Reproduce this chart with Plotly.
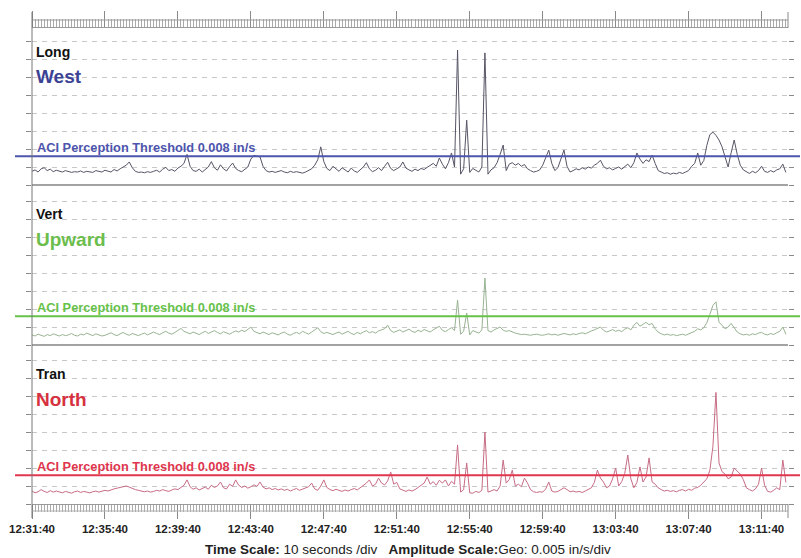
import pandas as pd
import plotly.graph_objects as go

# ---------------- data (peak particle velocity, in/s, one sample per 10 s) ----------------
start_time = "2000-01-01 12:31:40"
end_time = "2000-01-01 13:13:07"
sample_step = "10s"
threshold = 0.008
threshold_text = "ACI Perception Threshold 0.008 in/s"

long_west = [
    0.0038, 0.0042, 0.0036, 0.0045, 0.0048, 0.0040, 0.0044, 0.0037, 0.0041, 0.0039,
    0.0036, 0.0040, 0.0038, 0.0035, 0.0037, 0.0036, 0.0039, 0.0035, 0.0038, 0.0036,
    0.0035, 0.0040, 0.0037, 0.0036, 0.0041, 0.0038, 0.0036, 0.0043, 0.0039, 0.0045,
    0.0050, 0.0055, 0.0064, 0.0048, 0.0038, 0.0035, 0.0036, 0.0034, 0.0037, 0.0035,
    0.0038, 0.0041, 0.0036, 0.0044, 0.0049, 0.0040, 0.0043, 0.0038, 0.0047, 0.0052,
    0.0060, 0.0085, 0.0052, 0.0040, 0.0038, 0.0044, 0.0036, 0.0042, 0.0050, 0.0065,
    0.0048, 0.0041, 0.0056, 0.0045, 0.0039, 0.0051, 0.0061, 0.0046, 0.0040, 0.0037,
    0.0043, 0.0050, 0.0072, 0.0082, 0.0080, 0.0078, 0.0052, 0.0040, 0.0036, 0.0038,
    0.0035, 0.0037, 0.0040, 0.0036, 0.0034, 0.0038, 0.0035, 0.0037, 0.0036, 0.0033,
    0.0036, 0.0040, 0.0045, 0.0055, 0.0070, 0.0106, 0.0065, 0.0046, 0.0040, 0.0052,
    0.0044, 0.0038, 0.0048, 0.0041, 0.0036, 0.0047, 0.0039, 0.0035, 0.0042, 0.0050,
    0.0062, 0.0045, 0.0037, 0.0041, 0.0048, 0.0040, 0.0052, 0.0063, 0.0046, 0.0040,
    0.0045, 0.0050, 0.0064, 0.0047, 0.0042, 0.0038, 0.0044, 0.0040, 0.0046, 0.0043,
    0.0049, 0.0055, 0.0060, 0.0052, 0.0075, 0.0058, 0.0045, 0.0062, 0.0089, 0.0050,
    0.0375, 0.0030, 0.0045, 0.0180, 0.0035, 0.0046, 0.0040, 0.0036, 0.0050, 0.0367,
    0.0030, 0.0042, 0.0048, 0.0062, 0.0085, 0.0111, 0.0040, 0.0058, 0.0062, 0.0055,
    0.0060, 0.0052, 0.0057, 0.0045, 0.0040, 0.0036, 0.0038, 0.0042, 0.0055, 0.0078,
    0.0097, 0.0060, 0.0040, 0.0048, 0.0070, 0.0097, 0.0052, 0.0036, 0.0040, 0.0045,
    0.0042, 0.0048, 0.0044, 0.0050, 0.0047, 0.0055, 0.0060, 0.0069, 0.0052, 0.0045,
    0.0048, 0.0042, 0.0046, 0.0050, 0.0044, 0.0052, 0.0058, 0.0048, 0.0062, 0.0089,
    0.0072, 0.0060, 0.0070, 0.0065, 0.0083, 0.0060, 0.0040, 0.0036, 0.0032, 0.0034,
    0.0030, 0.0033, 0.0031, 0.0035, 0.0032, 0.0036, 0.0040, 0.0052, 0.0060, 0.0089,
    0.0055, 0.0068, 0.0110, 0.0140, 0.0147, 0.0138, 0.0125, 0.0106, 0.0075, 0.0050,
    0.0090, 0.0125, 0.0085, 0.0055, 0.0042, 0.0036, 0.0032, 0.0038, 0.0034, 0.0040,
    0.0052, 0.0038, 0.0035, 0.0040, 0.0036, 0.0042, 0.0045, 0.0058, 0.0035,
]

vert_upward = [
    0.0028, 0.0025, 0.0030, 0.0027, 0.0024, 0.0029, 0.0026, 0.0031, 0.0027, 0.0025,
    0.0029, 0.0026, 0.0028, 0.0032, 0.0027, 0.0025, 0.0030, 0.0028, 0.0033, 0.0029,
    0.0026, 0.0031, 0.0028, 0.0025, 0.0027, 0.0030, 0.0034, 0.0029, 0.0026, 0.0031,
    0.0035, 0.0030, 0.0027, 0.0032, 0.0029, 0.0026, 0.0030, 0.0033, 0.0028, 0.0031,
    0.0036, 0.0032, 0.0029, 0.0034, 0.0038, 0.0033, 0.0030, 0.0035, 0.0040, 0.0046,
    0.0038, 0.0034, 0.0031, 0.0036, 0.0033, 0.0029, 0.0034, 0.0038, 0.0032, 0.0036,
    0.0040, 0.0035, 0.0031, 0.0037, 0.0034, 0.0030, 0.0035, 0.0039, 0.0036, 0.0041,
    0.0037, 0.0043, 0.0050, 0.0038, 0.0034, 0.0031, 0.0036, 0.0033, 0.0029, 0.0034,
    0.0031, 0.0028, 0.0033, 0.0036, 0.0030, 0.0027, 0.0032, 0.0035, 0.0031, 0.0038,
    0.0034, 0.0030, 0.0036, 0.0041, 0.0048, 0.0037, 0.0032, 0.0035, 0.0031, 0.0029,
    0.0033, 0.0036, 0.0030, 0.0034, 0.0038, 0.0032, 0.0029, 0.0035, 0.0031, 0.0036,
    0.0040, 0.0034, 0.0037, 0.0033, 0.0039, 0.0042, 0.0045, 0.0055, 0.0040, 0.0035,
    0.0038, 0.0042, 0.0036, 0.0040, 0.0044, 0.0038, 0.0035, 0.0041, 0.0037, 0.0043,
    0.0040, 0.0036, 0.0042, 0.0046, 0.0052, 0.0041, 0.0037, 0.0043, 0.0048, 0.0040,
    0.0125, 0.0030, 0.0038, 0.0089, 0.0028, 0.0040, 0.0036, 0.0033, 0.0042, 0.0186,
    0.0040, 0.0036, 0.0042, 0.0046, 0.0050, 0.0041, 0.0038, 0.0040, 0.0036, 0.0033,
    0.0031, 0.0029, 0.0030, 0.0028, 0.0027, 0.0029, 0.0030, 0.0028, 0.0027, 0.0029,
    0.0031, 0.0028, 0.0030, 0.0027, 0.0029, 0.0032, 0.0030, 0.0028, 0.0031, 0.0029,
    0.0032, 0.0034, 0.0031, 0.0036, 0.0039, 0.0042, 0.0045, 0.0050, 0.0041, 0.0036,
    0.0039, 0.0043, 0.0038, 0.0041, 0.0037, 0.0044, 0.0048, 0.0042, 0.0055, 0.0063,
    0.0052, 0.0058, 0.0063, 0.0056, 0.0060, 0.0045, 0.0036, 0.0031, 0.0028, 0.0030,
    0.0027, 0.0029, 0.0026, 0.0028, 0.0030, 0.0027, 0.0031, 0.0034, 0.0038, 0.0045,
    0.0042, 0.0048, 0.0062, 0.0085, 0.0110, 0.0120, 0.0063, 0.0055, 0.0045, 0.0050,
    0.0060, 0.0048, 0.0036, 0.0031, 0.0028, 0.0030, 0.0027, 0.0031, 0.0029, 0.0033,
    0.0035, 0.0030, 0.0028, 0.0032, 0.0029, 0.0034, 0.0038, 0.0050, 0.0030,
]

tran_north = [
    0.0036, 0.0031, 0.0034, 0.0040, 0.0035, 0.0032, 0.0037, 0.0033, 0.0036, 0.0034,
    0.0031, 0.0035, 0.0033, 0.0030, 0.0034, 0.0036, 0.0032, 0.0035, 0.0033, 0.0031,
    0.0034, 0.0036, 0.0033, 0.0035, 0.0038, 0.0036, 0.0040, 0.0042, 0.0044, 0.0046,
    0.0048, 0.0050, 0.0047, 0.0043, 0.0040, 0.0038, 0.0036, 0.0034, 0.0036, 0.0033,
    0.0035, 0.0038, 0.0036, 0.0040, 0.0037, 0.0035, 0.0039, 0.0042, 0.0040, 0.0045,
    0.0052, 0.0067, 0.0048, 0.0041, 0.0045, 0.0039, 0.0043, 0.0047, 0.0041, 0.0052,
    0.0046, 0.0050, 0.0061, 0.0045, 0.0042, 0.0055, 0.0049, 0.0067, 0.0052, 0.0046,
    0.0050, 0.0044, 0.0048, 0.0053, 0.0049, 0.0061, 0.0047, 0.0042, 0.0045, 0.0040,
    0.0043, 0.0039, 0.0042, 0.0038, 0.0041, 0.0036, 0.0040, 0.0043, 0.0038, 0.0041,
    0.0045, 0.0048, 0.0058, 0.0042, 0.0038, 0.0050, 0.0067, 0.0046, 0.0040, 0.0037,
    0.0041, 0.0038, 0.0035, 0.0039, 0.0036, 0.0040, 0.0043, 0.0039, 0.0045, 0.0050,
    0.0058, 0.0067, 0.0050, 0.0055, 0.0072, 0.0058, 0.0053, 0.0064, 0.0089, 0.0055,
    0.0060, 0.0042, 0.0038, 0.0035, 0.0039, 0.0036, 0.0040, 0.0045, 0.0052, 0.0058,
    0.0075, 0.0055, 0.0062, 0.0052, 0.0066, 0.0058, 0.0067, 0.0050, 0.0063, 0.0055,
    0.0164, 0.0033, 0.0040, 0.0114, 0.0031, 0.0030, 0.0035, 0.0032, 0.0038, 0.0200,
    0.0033, 0.0036, 0.0040, 0.0036, 0.0050, 0.0122, 0.0058, 0.0068, 0.0094, 0.0050,
    0.0055, 0.0048, 0.0072, 0.0058, 0.0040, 0.0034, 0.0032, 0.0034, 0.0033, 0.0042,
    0.0061, 0.0036, 0.0033, 0.0035, 0.0040, 0.0045, 0.0040, 0.0034, 0.0036, 0.0033,
    0.0035, 0.0032, 0.0036, 0.0040, 0.0045, 0.0060, 0.0094, 0.0072, 0.0061, 0.0045,
    0.0050, 0.0070, 0.0100, 0.0050, 0.0062, 0.0085, 0.0136, 0.0070, 0.0045, 0.0060,
    0.0103, 0.0061, 0.0075, 0.0128, 0.0061, 0.0055, 0.0045, 0.0040, 0.0036, 0.0038,
    0.0035, 0.0037, 0.0034, 0.0038, 0.0040, 0.0036, 0.0041, 0.0038, 0.0044, 0.0046,
    0.0052, 0.0061, 0.0070, 0.0094, 0.0160, 0.0310, 0.0114, 0.0090, 0.0083, 0.0070,
    0.0075, 0.0100, 0.0090, 0.0083, 0.0068, 0.0045, 0.0040, 0.0036, 0.0042, 0.0055,
    0.0100, 0.0052, 0.0035, 0.0033, 0.0038, 0.0045, 0.0040, 0.0122, 0.0060,
]

channels = ["Long", "Vert", "Tran"]
directions = ["West", "Upward", "North"]
series = [long_west, vert_upward, tran_north]

# ---------------- styling ----------------
FONT = "Arial, 'Liberation Sans', sans-serif"
W, H = 801, 558
ML, MR, MT, MB = 32, 13, 28, 54
PH = H - MT - MB          # plot height in px
PW = W - ML - MR


def py(px):
    return (H - MB - px) / PH


def pxx(px):
    return (px - ML) / PW


label_colors = ["#3c4395", "#6bbd4c", "#d6313f"]
thresh_colors = ["#4d55ad", "#67c24a", "#e0364e"]
trace_colors = ["#555566", "#98b392", "#c76c84"]
# panel pixel extents (top, zero line)
panel_px = [(28, 185), (190, 345), (350, 504)]
px_per_div = 18.0
amp_div = 0.005

fig = go.Figure()
for k, vals in enumerate(series):
    t = pd.date_range(start_time, periods=len(vals), freq=sample_step)
    sfx = "" if k == 0 else str(k + 1)
    fig.add_trace(go.Scatter(
        x=t, y=vals, mode="lines", xaxis="x" + sfx, yaxis="y" + sfx,
        line=dict(color=trace_colors[k], width=1), hoverinfo="skip", showlegend=False,
    ))

layout = dict(
    width=W, height=H, margin=dict(l=ML, r=MR, t=MT, b=MB, autoexpand=False),
    paper_bgcolor="white", plot_bgcolor="white", showlegend=False,
    font=dict(family=FONT, color="#222"),
)

shapes = []
annotations = []
for k in range(3):
    sfx = "" if k == 0 else str(k + 1)
    top, zero = panel_px[k]
    ymax = (zero - top) / px_per_div * amp_div
    layout["yaxis" + sfx] = dict(
        domain=[py(zero), py(top)], range=[0, ymax], anchor="x" + sfx,
        dtick=amp_div, tick0=0, showticklabels=False,
        showgrid=True, griddash="5px,5px", gridcolor="#c8c8c8", gridwidth=1,
        zeroline=True, zerolinecolor="#a3a3a3", zerolinewidth=2,
        ticks="outside", ticklen=5, tickcolor="#8a8a8a", tickwidth=1,
        showline=False, mirror="ticks", fixedrange=True, automargin=False,
    )
    xa = dict(
        domain=[0, 1], range=[start_time, end_time], type="date", anchor="y" + sfx,
        showgrid=False, zeroline=False, fixedrange=True, automargin=False,
        tick0=start_time, dtick=240000,
    )
    if k == 0:
        xa.update(side="top", showline=True, linecolor="#9a9a9a", linewidth=1,
                  ticks="outside", ticklen=16, tickcolor="#8a8a8a", showticklabels=False,
                  minor=dict(dtick=10000, tick0=start_time, ticks="outside", ticklen=8,
                             tickcolor="#aaaaaa", showgrid=False))
    elif k == 2:
        xa.update(side="bottom", showline=True, linecolor="#9a9a9a", linewidth=1,
                  ticks="outside", ticklen=14, tickcolor="#8a8a8a",
                  tickformat="%H:%M:%S", showticklabels=True,
                  tickfont=dict(size=11.5, color="#222", family=FONT, weight="bold"),
                  minor=dict(dtick=10000, tick0=start_time, ticks="outside", ticklen=7,
                             tickcolor="#aaaaaa", showgrid=False))
        xa["matches"] = "x"
    else:
        xa.update(visible=False, matches="x")
    layout["xaxis" + sfx] = xa

    # threshold line extending past the plot edges
    shapes.append(dict(type="line", xref="paper", yref="y" + sfx,
                       x0=pxx(15), x1=pxx(800), y0=threshold, y1=threshold,
                       line=dict(color=thresh_colors[k], width=2), layer="above"))
    annotations.append(dict(text=threshold_text, xref="paper", yref="y" + sfx,
                            x=pxx(35), y=threshold, xanchor="left", yanchor="bottom",
                            yshift=-1, showarrow=False,
                            font=dict(size=12.8, color=thresh_colors[k], family=FONT, weight="bold")))
    # channel and direction labels
    annotations.append(dict(text=channels[k], xref="paper", yref="paper",
                            x=pxx(34), y=py(top + 24), xanchor="left", yanchor="middle",
                            showarrow=False,
                            font=dict(size=14, color="#111", family=FONT, weight="bold")))
    annotations.append(dict(text=directions[k], xref="paper", yref="paper",
                            x=pxx(34), y=py(top + 49), xanchor="left", yanchor="middle",
                            showarrow=False,
                            font=dict(size=19, color=label_colors[k], family=FONT, weight="bold")))

# ruler borders and frame lines
shapes += [
    dict(type="line", xref="paper", yref="paper", x0=0, x1=1, y0=py(20), y1=py(20),
         line=dict(color="#9a9a9a", width=1)),
    dict(type="line", xref="paper", yref="paper", x0=0, x1=1, y0=py(511), y1=py(511),
         line=dict(color="#b0b0b0", width=1)),
    dict(type="line", xref="paper", yref="paper", x0=0, x1=0, y0=py(518), y1=py(12),
         line=dict(color="#777777", width=1)),
    dict(type="line", xref="paper", yref="paper", x0=1, x1=1, y0=py(28), y1=py(12),
         line=dict(color="#8a8a8a", width=1)),
    dict(type="line", xref="paper", yref="paper", x0=1, x1=1, y0=py(518), y1=py(504),
         line=dict(color="#8a8a8a", width=1)),
]

annotations.append(dict(
    text="<b>Time Scale:</b> 10 seconds /div   <b>Amplitude Scale:</b>Geo: 0.005 in/s/div",
    xref="paper", yref="paper", x=pxx(408), y=py(549), xanchor="center", yanchor="middle",
    showarrow=False, font=dict(size=13.5, color="#222", family=FONT)))

layout["shapes"] = shapes
layout["annotations"] = annotations
fig.update_layout(**layout)
fig.write_html("out.html", config={"displayModeBar": False},
               post_script="document.body.style.margin='0px';document.body.style.padding='0px';")
